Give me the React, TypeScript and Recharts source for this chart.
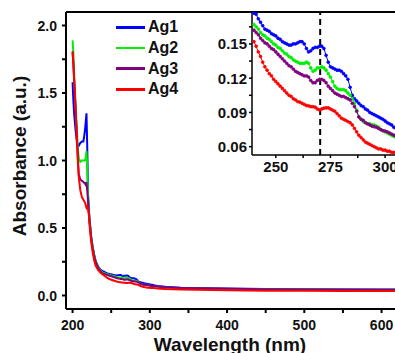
import React from 'react'
import { LineChart, Line, XAxis, YAxis, ReferenceLine } from 'recharts'

const FONT = "'Liberation Sans', Arial, sans-serif"

const SERIES = [
    { key: 'ag1', name: 'Ag1', color: '#0000ff' },
    { key: 'ag2', name: 'Ag2', color: '#00ee00' },
    { key: 'ag3', name: 'Ag3', color: '#800080' },
    { key: 'ag4', name: 'Ag4', color: '#ff0000' }
]

// UV edge, 200-239 nm
const headWl = [200, 201, 202, 204, 206, 207, 208, 210, 212, 214, 216, 217, 218, 219, 220, 221, 222, 224, 226, 228, 230, 233, 236, 239]
const ag1Head = [1.58, 1.45, 1.35, 1.22, 1.12, 1.1, 1.11, 1.13, 1.14, 1.14, 1.22, 1.28, 1.35, 1.1, 0.75, 0.64, 0.56, 0.44, 0.36, 0.3, 0.255, 0.215, 0.192, 0.18]
const ag2Head = [1.89, 1.8, 1.65, 1.4, 1.18, 1.08, 1.02, 0.99, 1.0, 1.0, 1.0, 1.02, 1.07, 0.95, 0.75, 0.64, 0.56, 0.44, 0.36, 0.3, 0.25, 0.21, 0.185, 0.168]
const ag3Head = [1.8, 1.72, 1.6, 1.38, 1.12, 1.0, 0.9, 0.86, 0.85, 0.84, 0.83, 0.82, 0.84, 0.78, 0.7, 0.63, 0.55, 0.43, 0.35, 0.29, 0.245, 0.205, 0.18, 0.163]
const ag4Head = [1.81, 1.72, 1.6, 1.36, 1.1, 0.98, 0.88, 0.78, 0.73, 0.71, 0.69, 0.67, 0.65, 0.66, 0.64, 0.6, 0.52, 0.4, 0.32, 0.26, 0.22, 0.19, 0.17, 0.155]

// inset region, 240-305 nm every 1 nm
const insetWl = Array.from({ length: 66 }, (_, i) => 240 + i)
const ag1Inset = [
    0.177, 0.176, 0.172, 0.169, 0.166, 0.163, 0.162, 0.161, 0.159, 0.158,
    0.157, 0.155, 0.154, 0.152, 0.151, 0.15, 0.149, 0.149, 0.15, 0.15,
    0.151, 0.152, 0.152, 0.15, 0.146, 0.143, 0.144, 0.146, 0.147, 0.147,
    0.148, 0.148, 0.146, 0.14, 0.134, 0.13, 0.129, 0.128, 0.127, 0.127,
    0.126, 0.124, 0.122, 0.119, 0.112, 0.105, 0.102, 0.1, 0.098, 0.096,
    0.095, 0.093, 0.092, 0.09, 0.089, 0.088, 0.087, 0.086, 0.085, 0.084,
    0.0825, 0.081, 0.08, 0.079, 0.077, 0.076
]
const ag2Inset = [
    0.167, 0.165, 0.163, 0.16, 0.158, 0.157, 0.155, 0.154, 0.152, 0.15,
    0.149, 0.147, 0.146, 0.144, 0.142, 0.141, 0.139, 0.138, 0.136, 0.135,
    0.134, 0.133, 0.133, 0.133, 0.134, 0.133, 0.129, 0.126, 0.127, 0.129,
    0.129, 0.13, 0.129, 0.127, 0.124, 0.121, 0.117, 0.113, 0.111, 0.11,
    0.11, 0.11, 0.109, 0.107, 0.105, 0.102, 0.098, 0.092, 0.086, 0.084,
    0.082, 0.081, 0.08, 0.08, 0.079, 0.079, 0.078, 0.077, 0.075, 0.074,
    0.073, 0.072, 0.071, 0.07, 0.069, 0.068
]
const ag3Inset = [
    0.162, 0.16, 0.158, 0.155, 0.153, 0.151, 0.15, 0.148, 0.146, 0.145,
    0.143, 0.141, 0.139, 0.137, 0.135, 0.133, 0.131, 0.13, 0.128, 0.126,
    0.125, 0.124, 0.123, 0.122, 0.122, 0.121, 0.118, 0.116, 0.116, 0.118,
    0.119, 0.119, 0.118, 0.116, 0.113, 0.111, 0.109, 0.107, 0.106, 0.105,
    0.104, 0.104, 0.103, 0.102, 0.101, 0.098, 0.095, 0.091, 0.086, 0.084,
    0.083, 0.081, 0.08, 0.079, 0.078, 0.0775, 0.077, 0.076, 0.075, 0.074,
    0.0737, 0.073, 0.072, 0.071, 0.07, 0.07
]
const ag4Inset = [
    0.152, 0.148, 0.143, 0.139, 0.134, 0.13, 0.127, 0.124, 0.122, 0.119,
    0.117, 0.115, 0.113, 0.111, 0.109, 0.107, 0.105, 0.104, 0.102, 0.101,
    0.0995, 0.099, 0.098, 0.097, 0.096, 0.0957, 0.095, 0.095, 0.0946, 0.093,
    0.0922, 0.093, 0.0937, 0.094, 0.094, 0.093, 0.092, 0.091, 0.089, 0.087,
    0.085, 0.084, 0.083, 0.082, 0.081, 0.079, 0.076, 0.073, 0.07, 0.068,
    0.066, 0.064, 0.063, 0.062, 0.061, 0.06, 0.059, 0.058, 0.058, 0.057,
    0.057, 0.056, 0.056, 0.055, 0.055, 0.055
]

// visible tail, 310-620 nm
const tailWl = [310, 320, 340, 360, 380, 400, 450, 500, 550, 600, 620]
const ag1Tail = [0.07, 0.064, 0.058, 0.055, 0.053, 0.051, 0.048, 0.046, 0.045, 0.044, 0.044]
const ag2Tail = [0.064, 0.059, 0.054, 0.052, 0.05, 0.049, 0.046, 0.044, 0.043, 0.042, 0.042]
const ag3Tail = [0.066, 0.061, 0.056, 0.053, 0.051, 0.05, 0.047, 0.045, 0.044, 0.043, 0.043]
const ag4Tail = [0.052, 0.048, 0.044, 0.042, 0.04, 0.038, 0.036, 0.035, 0.034, 0.034, 0.034]

const mainXTicks = [200, 250, 300, 350, 400, 450, 500, 550, 600]
const mainYTicks = [0, 0.25, 0.5, 0.75, 1, 1.25, 1.5, 1.75, 2]
const insetXTicks = [250, 262.5, 275, 287.5, 300]
const insetYTicks = [0.06, 0.075, 0.09, 0.105, 0.12, 0.135, 0.15, 0.165]
const markerWl = 270.3

const mainWl = [...headWl, ...insetWl, ...tailWl]
const mainValues = {
    ag1: [...ag1Head, ...ag1Inset, ...ag1Tail],
    ag2: [...ag2Head, ...ag2Inset, ...ag2Tail],
    ag3: [...ag3Head, ...ag3Inset, ...ag3Tail],
    ag4: [...ag4Head, ...ag4Inset, ...ag4Tail]
}
const mainData = mainWl.map((wl, i) => ({
    wl,
    ag1: mainValues.ag1[i],
    ag2: mainValues.ag2[i],
    ag3: mainValues.ag3[i],
    ag4: mainValues.ag4[i]
}))
const insetData = insetWl.map((wl, i) => ({
    wl,
    ag1: ag1Inset[i],
    ag2: ag2Inset[i],
    ag3: ag3Inset[i],
    ag4: ag4Inset[i]
}))

const labelStyle = { fontFamily: FONT, fontWeight: 700, fill: '#111' }

const XTick = ({ x, y, payload, majors, size, dy }: any) => {
    if (!majors.includes(payload.value)) return <g />
    return (
        <text x={x} y={y} dy={dy} textAnchor="middle" fontSize={size} style={labelStyle}>
            {payload.value}
        </text>
    )
}

const YTick = ({ x, y, payload, majors, size, fmt }: any) => {
    if (!majors.includes(payload.value)) return <g />
    return (
        <text x={x} y={y} dy={size * 0.36} textAnchor="end" fontSize={size} style={labelStyle}>
            {fmt(payload.value)}
        </text>
    )
}

const LegendBox = () => (
    <div style={{ position: 'absolute', left: 116, top: 17, fontFamily: FONT, fontWeight: 700, fontSize: 16, color: '#111' }}>
        {SERIES.map((s) => (
            <div key={s.key} style={{ display: 'flex', alignItems: 'center', height: 20.7 }}>
                <div style={{ width: 29, height: 2.5, background: s.color, marginRight: 3 }} />
                <span>{s.name}</span>
            </div>
        ))}
    </div>
)

export default function App() {
    return (
        <div style={{ position: 'absolute', left: 0, top: 0, width: 395, height: 353, overflow: 'hidden', background: '#fff' }}>
            <div style={{ position: 'absolute', left: 0, top: 0 }}>
                <LineChart width={400} height={353} data={mainData} margin={{ top: 12, right: 3, bottom: 14, left: 0 }}>
                    <XAxis
                        dataKey="wl"
                        type="number"
                        domain={[191.5, 620]}
                        allowDataOverflow
                        ticks={mainXTicks}
                        interval={0}
                        height={30}
                        stroke="#000"
                        strokeWidth={2}
                        tickSize={4}
                        tickMargin={2}
                        tick={(p: any) => <XTick {...p} majors={[200, 300, 400, 500, 600]} size={14} dy={15} />}
                    />
                    <YAxis
                        type="number"
                        domain={[-0.1, 2.1]}
                        allowDataOverflow
                        ticks={mainYTicks}
                        interval={0}
                        width={66}
                        stroke="#000"
                        strokeWidth={2}
                        tickSize={4}
                        tickMargin={5}
                        tick={(p: any) => <YTick {...p} majors={[0, 0.5, 1, 1.5, 2]} size={14} fmt={(v: number) => v.toFixed(1)} />}
                    />
                    <ReferenceLine y={2.1} stroke="#000" strokeWidth={2} />
                    {SERIES.map((s) => (
                        <Line
                            key={s.key}
                            type="linear"
                            dataKey={s.key}
                            name={s.name}
                            stroke={s.color}
                            strokeWidth={2}
                            dot={false}
                            isAnimationActive={false}
                        />
                    ))}
                </LineChart>
            </div>
            <LegendBox />
            <div style={{ position: 'absolute', left: 0, top: 0 }}>
                <LineChart width={400} height={177} data={insetData} margin={{ top: 12, right: 4, bottom: 0, left: 210 }}>
                    <XAxis
                        dataKey="wl"
                        type="number"
                        domain={[239.1, 305]}
                        allowDataOverflow
                        ticks={insetXTicks}
                        interval={0}
                        height={22}
                        stroke="#000"
                        strokeWidth={1.5}
                        tickSize={3}
                        tickMargin={2}
                        tick={(p: any) => <XTick {...p} majors={[250, 275, 300]} size={15} dy={12} />}
                    />
                    <YAxis
                        type="number"
                        domain={[0.0527, 0.178]}
                        allowDataOverflow
                        ticks={insetYTicks}
                        interval={0}
                        width={42}
                        stroke="#000"
                        strokeWidth={1.5}
                        tickSize={3}
                        tickMargin={2}
                        tick={(p: any) => <YTick {...p} majors={[0.06, 0.09, 0.12, 0.15]} size={15} fmt={(v: number) => v.toFixed(2)} />}
                    />
                    <ReferenceLine x={markerWl} stroke="#000" strokeWidth={2} strokeDasharray="6 4" />
                    {SERIES.map((s) => (
                        <Line
                            key={s.key}
                            type="linear"
                            dataKey={s.key}
                            name={s.name}
                            stroke={s.color}
                            strokeWidth={1}
                            dot={{ r: 1.4, fill: s.color, stroke: s.color, strokeWidth: 0.8 }}
                            isAnimationActive={false}
                        />
                    ))}
                </LineChart>
            </div>
            <div
                style={{
                    position: 'absolute',
                    left: 20,
                    top: 156,
                    transform: 'translate(-50%, -50%) rotate(-90deg)',
                    whiteSpace: 'nowrap',
                    fontFamily: FONT,
                    fontWeight: 700,
                    fontSize: 19,
                    color: '#111'
                }}
            >
                Absorbance (a.u.)
            </div>
            <div
                style={{
                    position: 'absolute',
                    left: 230,
                    top: 334,
                    transform: 'translateX(-50%)',
                    whiteSpace: 'nowrap',
                    fontFamily: FONT,
                    fontWeight: 700,
                    fontSize: 19,
                    lineHeight: '22px',
                    color: '#111'
                }}
            >
                Wavelength (nm)
            </div>
        </div>
    )
}
